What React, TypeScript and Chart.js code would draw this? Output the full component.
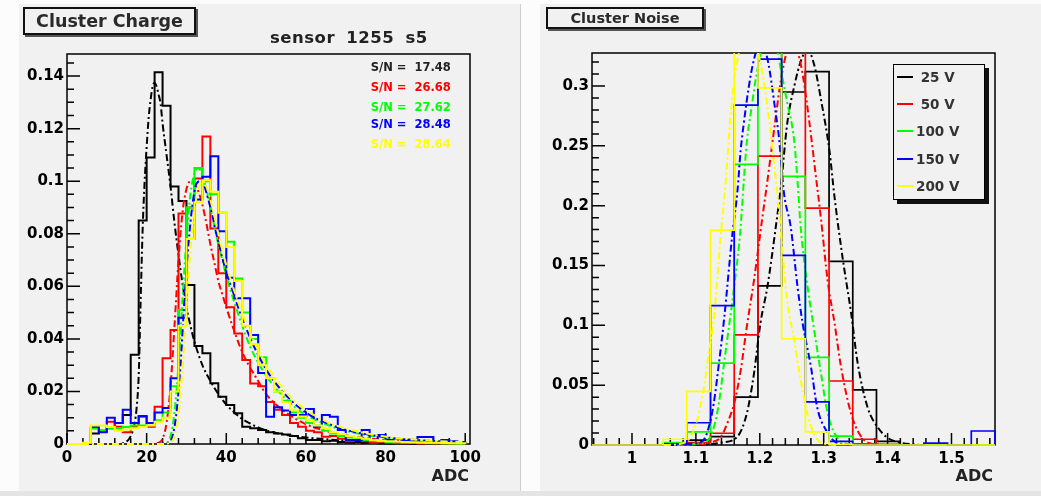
import React, { useEffect, useRef } from "react";
import { Chart, registerables } from "chart.js";

Chart.register(...registerables);

// ---------------- Cluster Charge (left panel) ----------------
const chargeBinStart = 0;
const chargeBinWidth = 2;
const chargeXTicks = [0, 20, 40, 60, 80, 100];
const chargeYTicks = [0, 0.02, 0.04, 0.06, 0.08, 0.1, 0.12, 0.14];

const charge25 = [
  0, 0, 0, 0.004, 0.005, 0.006, 0.008, 0.011, 0.034, 0.085,
  0.109, 0.1415, 0.1287, 0.098, 0.0925, 0.0605, 0.0373, 0.0345, 0.0231, 0.018,
  0.0148, 0.0117, 0.0066, 0.006, 0.0053, 0.0045, 0.004, 0.0036, 0.003, 0.0022,
  0.0015, 0.0015, 0.001, 0.0012, 0.0008, 0.0006, 0.0008, 0.0004, 0.0005, 0.0003,
  0.0002, 0.0003, 0.0002, 0.0001, 0.0002, 0.0001, 0.0001, 0.0002, 0.0001, 0.0001,
];
const charge50 = [
  0, 0, 0, 0.006, 0.005, 0.0085, 0.0066, 0.0045, 0.0066, 0.0104,
  0.0066, 0.0142, 0.0326, 0.0434, 0.0877, 0.09, 0.101, 0.117, 0.082, 0.065,
  0.052, 0.042, 0.032, 0.023, 0.022, 0.016, 0.013, 0.011, 0.008, 0.0066,
  0.005, 0.0045, 0.0028, 0.003, 0.002, 0.001, 0.0015, 0.001, 0.0005, 0.0008,
  0.0004, 0.0006, 0.0003, 0.0004, 0.0002, 0.0003, 0.0002, 0.0001, 0.0002, 0.0001,
];
const charge100 = [
  0, 0, 0, 0.006, 0.005, 0.006, 0.006, 0.0065, 0.007, 0.007,
  0.008, 0.009, 0.012, 0.022, 0.051, 0.09, 0.105, 0.1, 0.095, 0.088,
  0.077, 0.063, 0.05, 0.04, 0.033, 0.025, 0.02, 0.0165, 0.012, 0.01,
  0.008, 0.007, 0.005, 0.004, 0.003, 0.0025, 0.002, 0.0015, 0.0012, 0.001,
  0.0008, 0.0006, 0.0005, 0.0005, 0.0004, 0.0003, 0.0003, 0.0002, 0.0002, 0.0001,
];
const charge150 = [
  0, 0, 0, 0.0066, 0.0045, 0.01, 0.008, 0.013, 0.008, 0.0107,
  0.008, 0.012, 0.0137, 0.025, 0.048, 0.078, 0.093, 0.1017, 0.1095, 0.081,
  0.0633, 0.0555, 0.0555, 0.0415, 0.027, 0.0104, 0.014, 0.0127, 0.011, 0.011,
  0.0133, 0.0066, 0.011, 0.0104, 0.0053, 0.0015, 0.0015, 0.0053, 0.0015, 0.0034,
  0.0015, 0.0008, 0.0015, 0.0008, 0.0027, 0.0027, 0.0008, 0.0015, 0.001, 0.0008,
];
const charge200 = [
  0, 0, 0.0005, 0.007, 0.007, 0.0065, 0.005, 0.0055, 0.006, 0.0065,
  0.007, 0.0085, 0.01, 0.02, 0.045, 0.078, 0.092, 0.1004, 0.096, 0.088,
  0.075, 0.062, 0.045, 0.038, 0.03, 0.025, 0.02, 0.016, 0.013, 0.0105,
  0.009, 0.007, 0.006, 0.0045, 0.0038, 0.003, 0.0025, 0.002, 0.0015, 0.0012,
  0.001, 0.0009, 0.0008, 0.0007, 0.0006, 0.0005, 0.0005, 0.0004, 0.0003, 0.0003,
];

const chargeFit25X = [0, 12, 15, 16, 17, 17.5, 18, 18.5, 19, 19.5, 20, 20.5, 21, 21.5, 22, 22.5, 23, 23.5, 24, 25, 26, 27, 28, 29, 30, 31, 32, 34, 36, 38, 40, 42, 44, 46, 48, 50, 55, 60, 65, 70, 80, 90, 100];
const chargeFit25Y = [0, 0, 0.001, 0.003, 0.008, 0.014, 0.026, 0.055, 0.082, 0.1, 0.113, 0.124, 0.131, 0.136, 0.1375, 0.136, 0.133, 0.1295, 0.122, 0.11, 0.098, 0.084, 0.072, 0.061, 0.052, 0.045, 0.039, 0.03, 0.024, 0.019, 0.015, 0.012, 0.0095, 0.0078, 0.0063, 0.0052, 0.0035, 0.0025, 0.0018, 0.0013, 0.0007, 0.0004, 0.0002];
const chargeFit50X = [0, 20, 23, 24, 25, 26, 27, 28, 29, 30, 31, 32, 33, 34, 35, 36, 37, 38, 39, 40, 42, 44, 46, 48, 50, 55, 60, 65, 70, 80, 90, 100];
const chargeFit50Y = [0, 0, 0.0005, 0.002, 0.008, 0.022, 0.045, 0.07, 0.088, 0.097, 0.1, 0.099, 0.096, 0.091, 0.084, 0.076, 0.069, 0.062, 0.057, 0.052, 0.043, 0.035, 0.029, 0.024, 0.019, 0.012, 0.0075, 0.005, 0.0033, 0.0015, 0.0008, 0.0004];
const chargeFit100X = [0, 22, 25, 26, 27, 28, 29, 30, 31, 32, 33, 34, 35, 36, 37, 38, 39, 40, 42, 44, 46, 48, 50, 55, 60, 65, 70, 80, 90, 100];
const chargeFit100Y = [0, 0, 0.0005, 0.003, 0.012, 0.03, 0.055, 0.078, 0.095, 0.103, 0.105, 0.102, 0.097, 0.09, 0.083, 0.076, 0.07, 0.064, 0.054, 0.045, 0.037, 0.031, 0.026, 0.017, 0.011, 0.0075, 0.005, 0.0024, 0.0012, 0.0006];
const chargeFit150X = [0, 22, 25.5, 26.5, 27.5, 28.5, 29.5, 30.5, 31.5, 32.5, 33.5, 34.5, 35.5, 36.5, 37.5, 38.5, 39.5, 41, 43, 45, 47, 49, 51, 56, 61, 66, 71, 81, 91, 100];
const chargeFit150Y = [0, 0, 0.0005, 0.003, 0.012, 0.03, 0.055, 0.076, 0.091, 0.099, 0.1, 0.098, 0.093, 0.087, 0.08, 0.074, 0.068, 0.061, 0.052, 0.044, 0.037, 0.031, 0.026, 0.017, 0.011, 0.0075, 0.005, 0.0024, 0.0012, 0.0007];
const chargeFit200X = [0, 23, 26, 27, 28, 29, 30, 31, 32, 33, 34, 35, 36, 37, 38, 39, 40, 41, 43, 45, 47, 49, 51, 56, 61, 66, 71, 81, 91, 100];
const chargeFit200Y = [0, 0, 0.0005, 0.003, 0.011, 0.028, 0.052, 0.074, 0.089, 0.097, 0.1, 0.098, 0.093, 0.087, 0.08, 0.074, 0.068, 0.063, 0.054, 0.046, 0.039, 0.033, 0.028, 0.018, 0.012, 0.008, 0.0055, 0.0026, 0.0013, 0.0007];

const snLabels = ["S/N =  17.48", "S/N =  26.68", "S/N =  27.62", "S/N =  28.48", "S/N =  28.64"];

// ---------------- Cluster Noise (right panel) ----------------
const noiseBinStart = 0.9374;
const noiseBinWidth = 0.0371;
const noiseXTicks = [1, 1.1, 1.2, 1.3, 1.4, 1.5];
const noiseYTicks = [0, 0.05, 0.1, 0.15, 0.2, 0.25, 0.3];

const noise25 = [0, 0, 0, 0, 0.004, 0.007, 0.04, 0.133, 0.295, 0.312, 0.1535, 0.0461, 0.003, 0, 0, 0, 0];
const noise50 = [0, 0, 0, 0.0005, 0.002, 0.0098, 0.092, 0.2415, 0.345, 0.198, 0.0535, 0.0048, 0.0005, 0, 0, 0, 0];
const noise100 = [0, 0, 0, 0.002, 0.011, 0.0685, 0.2345, 0.345, 0.2245, 0.0733, 0.0075, 0.001, 0, 0, 0, 0, 0];
const noise150 = [0, 0, 0, 0.001, 0.0186, 0.1165, 0.284, 0.3225, 0.1585, 0.036, 0.003, 0.0005, 0, 0, 0.0015, 0, 0.0117];
const noise200 = [0, 0, 0, 0.0048, 0.0448, 0.1795, 0.37, 0.2985, 0.0888, 0.011, 0.0005, 0, 0, 0, 0, 0, 0];

const noiseFit25X = [1.1, 1.14, 1.165, 1.18, 1.191, 1.201, 1.212, 1.225, 1.233, 1.243, 1.254, 1.265, 1.275, 1.285, 1.296, 1.309, 1.317, 1.33, 1.343, 1.353, 1.369, 1.385, 1.4, 1.42, 1.45];
const noiseFit25Y = [0, 0.002, 0.007, 0.027, 0.06, 0.1018, 0.1325, 0.182, 0.216, 0.269, 0.3, 0.322, 0.33, 0.318, 0.288, 0.246, 0.207, 0.155, 0.11, 0.069, 0.031, 0.0145, 0.006, 0.002, 0];
const noiseFit50X = [1.08, 1.12, 1.139, 1.149, 1.16, 1.17, 1.18, 1.191, 1.204, 1.212, 1.222, 1.233, 1.243, 1.25, 1.257, 1.267, 1.278, 1.287, 1.296, 1.306, 1.317, 1.327, 1.343, 1.358, 1.375, 1.4];
const noiseFit50Y = [0, 0.002, 0.0066, 0.018, 0.035, 0.062, 0.1, 0.138, 0.19, 0.221, 0.262, 0.305, 0.33, 0.337, 0.333, 0.31, 0.268, 0.228, 0.188, 0.138, 0.1018, 0.0656, 0.026, 0.0075, 0.001, 0];
const noiseFit100X = [1.07, 1.1, 1.118, 1.128, 1.136, 1.144, 1.152, 1.16, 1.17, 1.175, 1.18, 1.186, 1.195, 1.205, 1.215, 1.225, 1.235, 1.243, 1.2537, 1.259, 1.264, 1.2747, 1.285, 1.2957, 1.306, 1.317, 1.335, 1.36];
const noiseFit100Y = [0, 0.001, 0.0034, 0.0145, 0.035, 0.068, 0.1, 0.1325, 0.182, 0.221, 0.255, 0.278, 0.31, 0.335, 0.345, 0.335, 0.308, 0.286, 0.255, 0.221, 0.182, 0.1325, 0.0963, 0.06, 0.027, 0.0098, 0.001, 0];
const noiseFit150X = [1.06, 1.09, 1.11, 1.12, 1.128, 1.136, 1.144, 1.157, 1.165, 1.17, 1.175, 1.183, 1.191, 1.2, 1.212, 1.225, 1.23, 1.238, 1.2485, 1.259, 1.267, 1.28, 1.29, 1.3035, 1.317, 1.34];
const noiseFit150Y = [0, 0.001, 0.003, 0.0145, 0.035, 0.068, 0.1045, 0.176, 0.212, 0.246, 0.269, 0.3, 0.3225, 0.335, 0.3225, 0.277, 0.257, 0.21, 0.182, 0.1325, 0.1018, 0.0655, 0.031, 0.0125, 0.003, 0];
const noiseFit200X = [1.05, 1.076, 1.0915, 1.102, 1.112, 1.12, 1.128, 1.139, 1.144, 1.149, 1.154, 1.16, 1.17, 1.185, 1.2, 1.212, 1.22, 1.228, 1.243, 1.2537, 1.264, 1.2747, 1.285, 1.296, 1.32];
const noiseFit200Y = [0, 0.001, 0.0066, 0.021, 0.046, 0.077, 0.1045, 0.176, 0.204, 0.237, 0.274, 0.305, 0.333, 0.345, 0.322, 0.283, 0.246, 0.207, 0.121, 0.088, 0.0545, 0.026, 0.009, 0.002, 0];

const legendLabels = [" 25 V", " 50 V", "100 V", "150 V", "200 V"];

// ---------------- styles ----------------
const COLORS = ["#000000", "#ff0000", "#00ff00", "#0000ff", "#ffff00"];
const FONT = "'DejaVu Sans', 'Liberation Sans', sans-serif";
const PAD_BG = "#f1f1f1";

function histPoints(start: number, width: number, values: number[]) {
  const pts = [{ x: start, y: 0 }];
  values.forEach((v, i) => pts.push({ x: start + i * width, y: v }));
  const end = start + values.length * width;
  pts.push({ x: end, y: values[values.length - 1] });
  pts.push({ x: end, y: 0 });
  return pts;
}

function fitPoints(xs: number[], ys: number[]) {
  return xs.map((x, i) => ({ x, y: ys[i] }));
}

const frameTicks = {
  id: "frameTicks",
  beforeDatasetsDraw(chart: any, _args: any, opts: any) {
    const { ctx, chartArea: a } = chart;
    const xs = chart.scales.x;
    const ys = chart.scales.y;
    ctx.save();
    ctx.strokeStyle = "#000";
    ctx.lineWidth = 1.5;
    ctx.strokeRect(a.left, a.top, a.right - a.left, a.bottom - a.top);
    ctx.beginPath();
    const each = (scale: any, step: number, majorEvery: number, cb: (p: number, major: boolean) => void) => {
      const s = Math.ceil(scale.min / step - 1e-6);
      const e = Math.floor(scale.max / step + 1e-6);
      for (let k = s; k <= e; k++) cb(scale.getPixelForValue(k * step), k % majorEvery === 0);
    };
    each(xs, opts.xStep, opts.xMajorEvery, (px, major) => {
      ctx.moveTo(px, a.bottom);
      ctx.lineTo(px, a.bottom - (major ? opts.xMajorLen : opts.xMinorLen));
    });
    each(ys, opts.yStep, opts.yMajorEvery, (py, major) => {
      ctx.moveTo(a.left, py);
      ctx.lineTo(a.left + (major ? opts.yMajorLen : opts.yMinorLen), py);
    });
    ctx.stroke();
    ctx.restore();
  },
};

const fmt = (v: number) => String(Number(Number(v).toFixed(4)));

function buildConfig(p: any) {
  const datasets: any[] = [];
  let idx = 0;
  p.hists.forEach((vals: number[], i: number) => {
    datasets.push({
      data: histPoints(p.binStart, p.binWidth, vals),
      stepped: "before",
      borderColor: COLORS[i],
      borderWidth: p.histWidth,
      pointRadius: 0,
      fill: false,
      clip: { left: 2, right: 2, top: 0, bottom: 3 },
      order: 100 - idx++,
    });
    datasets.push({
      data: fitPoints(p.fitX[i], p.fitY[i]),
      borderColor: COLORS[i],
      borderWidth: 2,
      borderDash: [7, 3, 2, 3],
      cubicInterpolationMode: "monotone",
      pointRadius: 0,
      fill: false,
      clip: { left: 2, right: 2, top: 0, bottom: 3 },
      order: 100 - idx++,
    });
  });
  const tickFont = { family: FONT, weight: "bold", size: 15 };
  return {
    type: "line",
    data: { datasets },
    plugins: [frameTicks],
    options: {
      animation: false,
      responsive: false,
      devicePixelRatio: 1,
      events: [],
      layout: { padding: p.padding },
      plugins: {
        legend: { display: false },
        tooltip: { enabled: false },
        frameTicks: p.ticks,
      },
      scales: {
        x: {
          type: "linear",
          min: p.xMin,
          max: p.xMax,
          bounds: "data",
          afterBuildTicks: (s: any) => {
            s.ticks = p.xTicks.map((v: number) => ({ value: v }));
          },
          afterFit: (s: any) => {
            s.height = 30;
          },
          grid: { display: false, drawTicks: false },
          border: { display: false },
          ticks: { font: tickFont, color: "#000", padding: 5, maxRotation: 0, autoSkip: false, callback: (v: number) => fmt(v) },
        },
        y: {
          type: "linear",
          min: 0,
          max: p.yMax,
          bounds: "data",
          afterBuildTicks: (s: any) => {
            s.ticks = p.yTicks.map((v: number) => ({ value: v }));
          },
          afterFit: (s: any) => {
            s.width = p.yAxisWidth;
          },
          grid: { display: false, drawTicks: false },
          border: { display: false },
          ticks: { font: tickFont, color: "#000", padding: 3, autoSkip: false, callback: (v: number) => fmt(v) },
        },
      },
    },
  };
}

function ChartCanvas({ make, left, top, width, height }: any) {
  const ref = useRef<HTMLCanvasElement | null>(null);
  useEffect(() => {
    const chart = new Chart(ref.current as HTMLCanvasElement, make() as any);
    return () => chart.destroy();
  }, []);
  return (
    <canvas
      ref={ref}
      width={width}
      height={height}
      style={{ position: "absolute", left, top, width, height }}
    />
  );
}

const makeCharge = () =>
  buildConfig({
    hists: [charge25, charge50, charge100, charge150, charge200],
    fitX: [chargeFit25X, chargeFit50X, chargeFit100X, chargeFit150X, chargeFit200X],
    fitY: [chargeFit25Y, chargeFit50Y, chargeFit100Y, chargeFit150Y, chargeFit200Y],
    binStart: chargeBinStart,
    binWidth: chargeBinWidth,
    histWidth: 2,
    xMin: 0,
    xMax: 101.2,
    yMax: 0.1484,
    xTicks: chargeXTicks,
    yTicks: chargeYTicks,
    yAxisWidth: 47,
    padding: { left: 0, top: 50, right: 50, bottom: 16 },
    ticks: { xStep: 4, xMajorEvery: 5, xMajorLen: 11, xMinorLen: 6, yStep: 0.005, yMajorEvery: 4, yMajorLen: 13, yMinorLen: 7 },
  });

const makeNoise = () =>
  buildConfig({
    hists: [noise25, noise50, noise100, noise150, noise200],
    fitX: [noiseFit25X, noiseFit50X, noiseFit100X, noiseFit150X, noiseFit200X],
    fitY: [noiseFit25Y, noiseFit50Y, noiseFit100Y, noiseFit150Y, noiseFit200Y],
    binStart: noiseBinStart,
    binWidth: noiseBinWidth,
    histWidth: 1.7,
    xMin: 0.9374,
    xMax: 1.5681,
    yMax: 0.3276,
    xTicks: noiseXTicks,
    yTicks: noiseYTicks,
    yAxisWidth: 52,
    padding: { left: 0, top: 49, right: 46, bottom: 15 },
    ticks: { xStep: 0.02, xMajorEvery: 5, xMajorLen: 12, xMinorLen: 7, yStep: 0.01, yMajorEvery: 5, yMajorLen: 13, yMinorLen: 7 },
  });

function Txt({ x, capTop, size, color = "#222", bold = true, right, children, style }: any) {
  const s: any = {
    position: "absolute",
    top: capTop - 0.117 * size,
    fontFamily: FONT,
    fontSize: size,
    lineHeight: `${size}px`,
    fontWeight: bold ? "bold" : "normal",
    color,
    whiteSpace: "pre",
    ...style,
  };
  if (right !== undefined) s.right = 1041 - right;
  else s.left = x;
  return <div style={s}>{children}</div>;
}

function TitleBox({ left, top, width, height, size, children }: any) {
  return (
    <div
      style={{
        position: "absolute",
        left,
        top,
        width,
        height,
        boxSizing: "border-box",
        border: "2px solid #111",
        boxShadow: "2px 2px 0 #555",
        background: PAD_BG,
        display: "flex",
        alignItems: "center",
        justifyContent: "center",
        fontFamily: FONT,
        fontWeight: "bold",
        fontSize: size,
        color: "#2a2a2a",
      }}
    >
      {children}
    </div>
  );
}

export default function App() {
  return (
    <div style={{ position: "absolute", left: 0, top: 0, width: 1041, height: 496, background: "#fcfcfc", overflow: "hidden" }}>
      <div style={{ position: "absolute", left: 0, top: 491, width: 1041, height: 5, background: "#e4e4e4" }} />
      <div style={{ position: "absolute", left: 19, top: 4, width: 501, height: 487, background: PAD_BG, borderRight: "1px solid #cfcfcf" }} />
      <div style={{ position: "absolute", left: 540, top: 4, width: 501, height: 487, background: PAD_BG }} />

      <ChartCanvas make={makeCharge} left={20} top={4} width={500} height={486} />
      <ChartCanvas make={makeNoise} left={540} top={4} width={501} height={486} />

      <TitleBox left={23} top={7} width={173} height={28} size={17.5}>Cluster Charge</TitleBox>
      <Txt x={270} capTop={32.3} size={16.5} style={{ letterSpacing: 0.5, wordSpacing: 5 }}>sensor 1255 s5</Txt>
      {snLabels.map((t, i) => (
        <Txt key={t} x={370.7} capTop={[63.3, 83.3, 103.3, 120.3, 140.3][i]} size={11.5} color={i === 0 ? "#222" : COLORS[i]}>
          {t}
        </Txt>
      ))}
      <Txt right={469} capTop={470} size={16}>ADC</Txt>

      <TitleBox left={546} top={7} width={158} height={22} size={14.5}>Cluster Noise</TitleBox>
      <Txt right={993} capTop={470} size={16}>ADC</Txt>

      <div
        style={{
          position: "absolute",
          left: 893,
          top: 64,
          width: 92,
          height: 136,
          boxSizing: "border-box",
          border: "1.5px solid #000",
          boxShadow: "4px 4px 0 #111",
          background: PAD_BG,
        }}
      >
        {legendLabels.map((t, i) => (
          <div key={t} style={{ position: "absolute", left: 0, top: 12.2 + i * 27.1 - 13.5, width: 88, height: 27 }}>
            <div style={{ position: "absolute", left: 2.5, top: 12.5, width: 16.5, height: 2, background: COLORS[i] }} />
            <div
              style={{
                position: "absolute",
                left: 22,
                top: 13.5 - 7,
                fontFamily: FONT,
                fontWeight: "bold",
                fontSize: 13.5,
                lineHeight: "14px",
                color: "#333",
                whiteSpace: "pre",
              }}
            >
              {t}
            </div>
          </div>
        ))}
      </div>
    </div>
  );
}
